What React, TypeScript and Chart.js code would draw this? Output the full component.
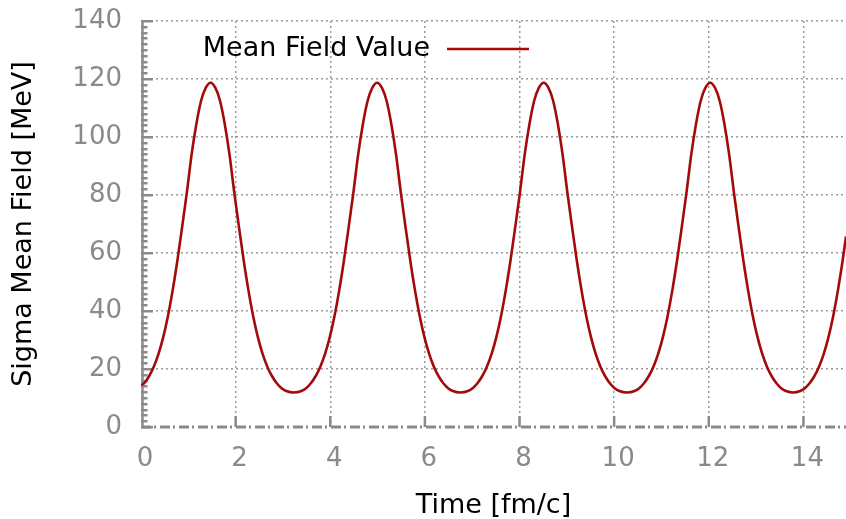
import { useEffect, useRef } from 'react';
import { Chart, registerables } from 'chart.js';

Chart.register(...registerables);

// Sigma mean field sampled over time
const seriesLabel = 'Mean Field Value';

const timeFmC = [
  0.0, 0.07, 0.17, 0.27, 0.37, 0.47, 0.57, 0.67, 0.77, 0.87, 0.97, 1.07, 1.17, 1.27, 1.37, 1.47,
  1.57, 1.67, 1.77, 1.87, 1.97, 2.07, 2.17, 2.27, 2.37, 2.47, 2.57, 2.67, 2.77, 2.87, 2.97, 3.07, 3.23,
  3.39, 3.49, 3.59, 3.69, 3.79, 3.89, 3.99, 4.09, 4.19, 4.29, 4.39, 4.49, 4.59, 4.69, 4.79, 4.89, 4.99,
  5.09, 5.19, 5.29, 5.39, 5.49, 5.59, 5.69, 5.79, 5.89, 5.99, 6.09, 6.19, 6.29, 6.39, 6.49, 6.59, 6.75,
  6.91, 7.01, 7.11, 7.21, 7.31, 7.41, 7.51, 7.61, 7.71, 7.81, 7.91, 8.01, 8.11, 8.21, 8.31, 8.41, 8.51,
  8.61, 8.71, 8.81, 8.91, 9.01, 9.11, 9.21, 9.31, 9.41, 9.51, 9.61, 9.71, 9.81, 9.91, 10.01, 10.11, 10.27,
  10.43, 10.53, 10.63, 10.73, 10.83, 10.93, 11.03, 11.13, 11.23, 11.33, 11.43, 11.53, 11.63, 11.73, 11.83, 11.93, 12.03,
  12.13, 12.23, 12.33, 12.43, 12.53, 12.63, 12.73, 12.83, 12.93, 13.03, 13.13, 13.23, 13.33, 13.43, 13.53, 13.63, 13.79,
  13.93, 14.03, 14.13, 14.23, 14.33, 14.43, 14.53, 14.63, 14.73, 14.83, 14.9,
];

const sigmaMeV = [
  14.4, 15.1, 17.5, 20.8, 25.2, 31, 38.3, 47.2, 57.5, 69, 81, 94, 104.5, 112.5, 117, 118.7,
  117, 112.5, 104.5, 94, 81, 69, 57.5, 47.2, 38.3, 31, 25.2, 20.8, 17.5, 15.1, 13.4, 12.4, 11.9,
  12.4, 13.4, 15.1, 17.5, 20.8, 25.2, 31, 38.3, 47.2, 57.5, 69, 81, 94, 104.5, 112.5, 117, 118.7,
  117, 112.5, 104.5, 94, 81, 69, 57.5, 47.2, 38.3, 31, 25.2, 20.8, 17.5, 15.1, 13.4, 12.4, 11.9,
  12.4, 13.4, 15.1, 17.5, 20.8, 25.2, 31, 38.3, 47.2, 57.5, 69, 81, 94, 104.5, 112.5, 117, 118.7,
  117, 112.5, 104.5, 94, 81, 69, 57.5, 47.2, 38.3, 31, 25.2, 20.8, 17.5, 15.1, 13.4, 12.4, 11.9,
  12.4, 13.4, 15.1, 17.5, 20.8, 25.2, 31, 38.3, 47.2, 57.5, 69, 81, 94, 104.5, 112.5, 117, 118.7,
  117, 112.5, 104.5, 94, 81, 69, 57.5, 47.2, 38.3, 31, 25.2, 20.8, 17.5, 15.1, 13.4, 12.4, 11.9,
  12.4, 13.4, 15.1, 17.5, 20.8, 25.2, 31, 38.3, 47.2, 57.5, 65.7,
];

const xMin = 0;
const xMax = 14.9;
const xStep = 2;
const yMin = 0;
const yMax = 140;
const yStep = 20;
const yMinorStep = 2;

const FONT = 'DejaVu Sans';
const AXIS_GRAY = '#8a8a8a';
const GRID_GRAY = '#9a9a9a';
const LINE_RED = '#a30b0b';

// Solid left axis with inward minor/major ticks, dash-dot bottom axis
const gnuplotAxes = {
  id: 'gnuplotAxes',
  beforeDatasetsDraw(chart: any) {
    const { ctx, chartArea, scales } = chart;
    const xs = scales.x;
    const ys = scales.y;
    const x0 = xs.getPixelForValue(xMin);
    const yBottom = ys.getPixelForValue(yMin);
    const yTop = ys.getPixelForValue(yMax);
    ctx.save();
    ctx.strokeStyle = AXIS_GRAY;
    ctx.lineCap = 'butt';

    ctx.lineWidth = 2.5;
    ctx.beginPath();
    ctx.moveTo(x0 + 1.5, yBottom);
    ctx.lineTo(x0 + 1.5, yTop - 1);
    ctx.stroke();

    for (let v = yMin; v <= yMax + 1e-9; v += yMinorStep) {
      const py = Math.round(ys.getPixelForValue(v)) + 0.25;
      const major = Math.abs(v % yStep) < 1e-9;
      ctx.beginPath();
      ctx.moveTo(x0, py);
      ctx.lineTo(x0 + (major ? 12 : 6.5), py);
      ctx.stroke();
    }

    xs.ticks.forEach((t: any) => {
      if (t.value <= xMin) return;
      const px = xs.getPixelForValue(t.value);
      ctx.beginPath();
      ctx.moveTo(px, yBottom);
      ctx.lineTo(px, yBottom - 11);
      ctx.stroke();
    });

    ctx.lineWidth = 3;
    ctx.setLineDash([10, 3, 2, 4]);
    ctx.beginPath();
    ctx.moveTo(x0, yBottom);
    ctx.lineTo(chartArea.right, yBottom);
    ctx.stroke();
    ctx.restore();
  },
};

// Key in the upper left: text, then a line sample
const insideKey = {
  id: 'insideKey',
  afterDatasetsDraw(chart: any) {
    const { ctx } = chart;
    const ds = chart.data.datasets[0];
    ctx.save();
    ctx.font = `27px "${FONT}"`;
    ctx.fillStyle = '#000';
    ctx.textAlign = 'right';
    ctx.textBaseline = 'middle';
    ctx.fillText(ds.label, 430, 48.5);
    ctx.strokeStyle = ds.borderColor;
    ctx.lineWidth = 2.5;
    ctx.beginPath();
    ctx.moveTo(447, 49);
    ctx.lineTo(529, 49);
    ctx.stroke();
    ctx.restore();
  },
};

export default function App() {
  const canvasRef = useRef<HTMLCanvasElement | null>(null);

  useEffect(() => {
    const canvas = canvasRef.current;
    if (!canvas) return;
    Chart.defaults.font.family = FONT;

    const points = timeFmC.map((t, i) => ({ x: t, y: sigmaMeV[i] }));

    const chart = new Chart(canvas, {
      type: 'line',
      data: {
        datasets: [
          {
            label: seriesLabel,
            data: points,
            borderColor: LINE_RED,
            borderWidth: 2.6,
            pointRadius: 0,
            fill: false,
            cubicInterpolationMode: 'monotone',
          },
        ],
      },
      options: {
        animation: false,
        responsive: false,
        devicePixelRatio: 1,
        layout: { padding: { top: 21, right: 0, bottom: 0, left: 0 } },
        plugins: {
          legend: { display: false },
          tooltip: { enabled: false },
        },
        scales: {
          x: {
            type: 'linear',
            min: xMin,
            max: xMax,
            afterFit: (scale: any) => {
              scale.height = 92;
              scale.paddingLeft = 0;
              scale.paddingRight = 0;
            },
            ticks: {
              stepSize: xStep,
              includeBounds: false,
              color: AXIS_GRAY,
              font: { size: 26 },
              padding: 17,
              labelOffset: 4,
              maxRotation: 0,
            },
            grid: {
              color: (c: any) => (c.tick && c.tick.value > xMin ? GRID_GRAY : 'rgba(0,0,0,0)'),
              lineWidth: 1.5,
              drawTicks: false,
            },
            border: { display: false, dash: [2, 3] },
            title: {
              display: true,
              text: 'Time [fm/c]',
              color: '#000',
              font: { size: 27, lineHeight: 1.0 },
              padding: { top: 0, bottom: 0 },
            },
          },
          y: {
            type: 'linear',
            min: yMin,
            max: yMax,
            afterFit: (scale: any) => {
              scale.width = 141;
              scale.paddingTop = 0;
              scale.paddingBottom = 0;
            },
            ticks: {
              stepSize: yStep,
              color: AXIS_GRAY,
              font: { size: 26 },
              padding: 19,
            },
            grid: {
              color: (c: any) => (c.tick && c.tick.value > yMin ? GRID_GRAY : 'rgba(0,0,0,0)'),
              lineWidth: 1.5,
              drawTicks: false,
            },
            border: { display: false, dash: [2, 3] },
            title: {
              display: true,
              text: 'Sigma Mean Field [MeV]',
              color: '#000',
              font: { size: 27 },
              padding: { top: 8, bottom: 0 },
            },
          },
        },
      },
      plugins: [gnuplotAxes, insideKey],
    });

    return () => chart.destroy();
  }, []);

  return (
    <div style={{ position: 'fixed', left: 0, top: 0, width: 846, height: 519, background: '#fff' }}>
      <canvas ref={canvasRef} width={846} height={519} style={{ display: 'block' }} />
    </div>
  );
}
